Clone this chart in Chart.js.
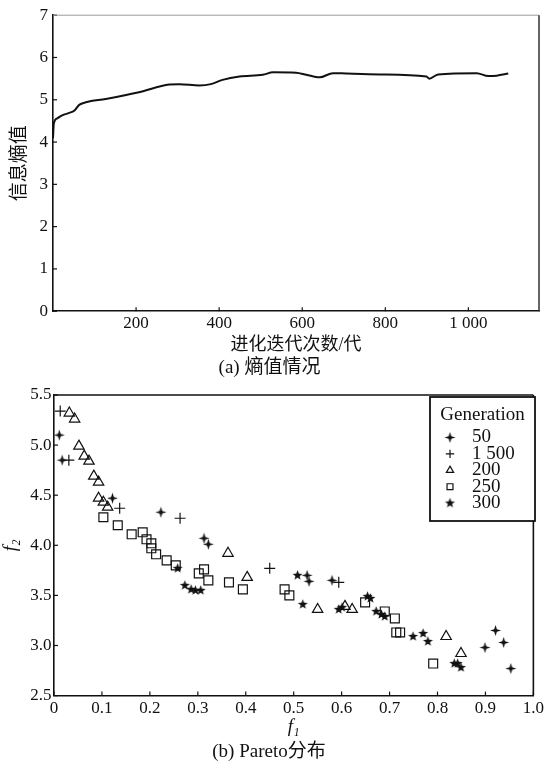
<!DOCTYPE html>
<html>
<head>
<meta charset="utf-8">
<script src="https://cdn.jsdelivr.net/npm/chart.js"></script>
<style>
html, body { margin:0; padding:0; background:#fff; }
#wrap { width:547px; height:769px; }
canvas { display:block; }
</style>
</head>
<body>
<div id="wrap">
  <canvas id="entropyChart" width="547" height="380"></canvas>
  <canvas id="paretoChart" width="547" height="389"></canvas>
</div>
<script>
// (a) entropy curve
const gens    = [0, 2, 10, 22, 39, 51, 63, 79, 127, 207, 280, 304, 352, 380, 408, 449, 505, 530, 585, 610, 642, 674, 706, 787, 899, 906, 927, 1020, 1048, 1068, 1096];
const entropy = [4.09, 4.44, 4.56, 4.63, 4.69, 4.74, 4.88, 4.94, 5.02, 5.18, 5.36, 5.37, 5.34, 5.37, 5.47, 5.55, 5.59, 5.65, 5.64, 5.59, 5.53, 5.63, 5.62, 5.60, 5.55, 5.50, 5.60, 5.63, 5.56, 5.57, 5.62];
const genTicks = [200, 400, 600, 800, 1000];

// (b) pareto fronts, one pair of arrays per generation
const genLabels = ['50', '1 500', '200', '250', '300'];
const f1_50  = [0.011, 0.017, 0.122, 0.223, 0.313, 0.322, 0.528, 0.532, 0.580, 0.899, 0.921, 0.938, 0.953];
const f2_50  = [5.10, 4.85, 4.47, 4.33, 4.07, 4.01, 3.70, 3.64, 3.65, 2.98, 3.15, 3.03, 2.77];
const f1_1500 = [0.013, 0.031, 0.137, 0.263, 0.450, 0.594];
const f2_1500 = [5.34, 4.85, 4.37, 4.27, 3.77, 3.63];
const f1_200 = [0.032, 0.043, 0.052, 0.063, 0.073, 0.083, 0.093, 0.093, 0.103, 0.112, 0.363, 0.403, 0.550, 0.607, 0.622, 0.818, 0.849];
const f2_200 = [5.32, 5.26, 4.99, 4.89, 4.84, 4.69, 4.63, 4.47, 4.43, 4.38, 3.92, 3.68, 3.36, 3.39, 3.36, 3.09, 2.92];
const f1_250 = [0.103, 0.133, 0.162, 0.185, 0.193, 0.203, 0.203, 0.213, 0.235, 0.254, 0.302, 0.313, 0.322, 0.365, 0.394, 0.481, 0.491, 0.649, 0.690, 0.711, 0.714, 0.722, 0.791];
const f2_250 = [4.28, 4.20, 4.11, 4.13, 4.06, 4.02, 3.97, 3.91, 3.85, 3.80, 3.72, 3.76, 3.65, 3.63, 3.56, 3.56, 3.50, 3.43, 3.34, 3.27, 3.13, 3.13, 2.82];
const f1_300 = [0.258, 0.273, 0.286, 0.295, 0.306, 0.508, 0.519, 0.594, 0.601, 0.654, 0.660, 0.672, 0.683, 0.690, 0.749, 0.770, 0.780, 0.835, 0.842, 0.849];
const f2_300 = [3.77, 3.60, 3.56, 3.55, 3.55, 3.70, 3.41, 3.36, 3.38, 3.49, 3.47, 3.34, 3.31, 3.29, 3.09, 3.12, 3.04, 2.82, 2.82, 2.78];

const SERIF = '"Liberation Serif", "Times New Roman", "Noto Sans CJK SC", serif';
const INK = '#111';

function pts(xs, ys){ return xs.map((v,i)=>({x:v, y:ys[i]})); }
function font(size, style){ return {family:SERIF, size:size, style:style||'normal', weight:'normal', lineHeight:1.2}; }

// marker images for the filled star symbols
function starImg(points, outer, inner){
  const s = Math.ceil(outer*2)+2, c = document.createElement('canvas');
  c.width = s; c.height = s;
  const g = c.getContext('2d');
  g.translate(s/2, s/2);
  g.beginPath();
  for(let i=0;i<points*2;i++){
    const r = i%2 ? inner : outer, a = -Math.PI/2 + i*Math.PI/points;
    g.lineTo(Math.cos(a)*r, Math.sin(a)*r);
  }
  g.closePath();
  g.fillStyle = INK; g.fill();
  return c;
}
const star4 = starImg(4, 5.5, 1.9);
const star5 = starImg(5, 5.2, 2.2);

// inward tick marks and the top/right frame lines
const frameTicks = {
  id:'frameTicks',
  afterDraw(chart, args, o){
    const {ctx, chartArea:a, scales:{x, y}} = chart;
    ctx.save();
    ctx.strokeStyle = INK; ctx.lineWidth = 1.2;
    x.ticks.forEach(t=>{
      const px = x.getPixelForValue(t.value);
      ctx.beginPath(); ctx.moveTo(px, a.bottom); ctx.lineTo(px, a.bottom-4); ctx.stroke();
    });
    y.ticks.forEach(t=>{
      const py = y.getPixelForValue(t.value);
      ctx.beginPath(); ctx.moveTo(a.left, py); ctx.lineTo(a.left+4, py); ctx.stroke();
    });
    ctx.strokeStyle = o.topColor; ctx.lineWidth = o.topWidth;
    ctx.beginPath(); ctx.moveTo(a.left, a.top); ctx.lineTo(a.right, a.top); ctx.stroke();
    ctx.strokeStyle = o.rightColor; ctx.lineWidth = o.rightWidth;
    ctx.beginPath(); ctx.moveTo(a.right, a.top); ctx.lineTo(a.right, a.bottom); ctx.stroke();
    ctx.restore();
  }
};

// boxed legend inside the plot
const genLegend = {
  id:'genLegend',
  afterDraw(chart, args, o){
    if(!o.show) return;
    const ctx = chart.ctx;
    ctx.save();
    ctx.fillStyle = '#fff'; ctx.fillRect(o.x, o.y, o.w, o.h);
    ctx.strokeStyle = INK; ctx.lineWidth = 1.8; ctx.strokeRect(o.x, o.y, o.w, o.h);
    ctx.font = '19px ' + SERIF; ctx.textBaseline = 'middle';
    ctx.fillStyle = INK; ctx.textAlign = 'center';
    ctx.fillText(o.title, o.x + o.w/2, o.titleY);
    chart.data.datasets.forEach((ds, i)=>{
      const cy = o.rowY + i*o.rowStep;
      ctx.fillStyle = ds.backgroundColor; ctx.strokeStyle = ds.borderColor; ctx.lineWidth = ds.borderWidth;
      Chart.helpers.drawPoint(ctx, {pointStyle:ds.pointStyle, radius:o.markerRadius, rotation:0, borderWidth:ds.borderWidth}, o.markerX, cy);
      ctx.fillStyle = INK; ctx.textAlign = 'left';
      ctx.fillText(ds.label, o.textX, cy);
    });
    ctx.restore();
  }
};

Chart.defaults.color = INK;
Chart.defaults.font.family = SERIF;

new Chart(document.getElementById('entropyChart'), {
  type:'line',
  data:{ datasets:[{ data:pts(gens, entropy), borderColor:INK, borderWidth:2, pointRadius:0, cubicInterpolationMode:'monotone', fill:false }] },
  options:{
    responsive:false, animation:false, events:[],
    layout:{ padding:{top:10, right:8, left:0, bottom:0} },
    plugins:{
      legend:{display:false}, tooltip:{enabled:false},
      title:{ display:true, position:'bottom', text:'(a) 熵值情况', font:font(19), color:INK, padding:{top:0, bottom:1} },
      frameTicks:{ topColor:'#9a9a9a', topWidth:1, rightColor:'#333', rightWidth:1.5 },
      genLegend:{ show:false }
    },
    scales:{
      x:{
        type:'linear', min:0, max:1170,
        afterBuildTicks:s=>{ s.ticks = genTicks.map(v=>({value:v})); },
        afterFit:s=>{ s.height = 45; },
        ticks:{ font:font(17), color:INK, padding:2, maxRotation:0, autoSkip:false,
                callback:v=> v>=1000 ? String(v).replace(/(\d)(\d{3})$/, '$1 $2') : String(v) },
        grid:{ display:false, drawTicks:false },
        border:{ display:true, color:INK, width:1.6 },
        title:{ display:true, text:'进化迭代次数/代', font:font(18), color:INK, padding:{top:0, bottom:0} }
      },
      y:{
        min:0, max:7,
        afterFit:s=>{ s.width = 53; },
        ticks:{ stepSize:1, font:font(17), color:INK, padding:5 },
        grid:{ display:false, drawTicks:false },
        border:{ display:true, color:INK, width:1.6 },
        title:{ display:true, text:'信息熵值', font:font(19), color:INK, padding:{top:9, bottom:0} }
      }
    }
  },
  plugins:[frameTicks, genLegend]
});

const hollow = 'rgba(0,0,0,0)';
new Chart(document.getElementById('paretoChart'), {
  type:'scatter',
  data:{ datasets:[
    { label:genLabels[0], data:pts(f1_50, f2_50),     pointStyle:star4,     pointRadius:5,   backgroundColor:INK,    borderColor:INK, borderWidth:1 },
    { label:genLabels[1], data:pts(f1_1500, f2_1500), pointStyle:'cross',   pointRadius:5.5, backgroundColor:hollow, borderColor:INK, borderWidth:1.2 },
    { label:genLabels[2], data:pts(f1_200, f2_200),   pointStyle:'triangle',pointRadius:6,   backgroundColor:hollow, borderColor:INK, borderWidth:1.2 },
    { label:genLabels[3], data:pts(f1_250, f2_250),   pointStyle:'rect',    pointRadius:6.3, backgroundColor:hollow, borderColor:INK, borderWidth:1.2 },
    { label:genLabels[4], data:pts(f1_300, f2_300),   pointStyle:star5,     pointRadius:5,   backgroundColor:INK,    borderColor:INK, borderWidth:1 }
  ]},
  options:{
    responsive:false, animation:false, events:[],
    layout:{ padding:{top:15, right:9, left:0, bottom:0} },
    plugins:{
      legend:{display:false}, tooltip:{enabled:false},
      title:{ display:true, position:'bottom', text:'(b) Pareto分布', font:font(19), color:INK, padding:{top:0, bottom:5.6} },
      frameTicks:{ topColor:INK, topWidth:1.6, rightColor:INK, rightWidth:1.6 },
      genLegend:{ show:true, title:'Generation', x:430, y:17, w:105, h:124, titleY:35,
                  markerX:450, textX:472, rowY:57.5, rowStep:16.4, markerRadius:4.2 }
    },
    scales:{
      x:{
        type:'linear', min:0, max:1,
        afterFit:s=>{ s.height = 45; },
        ticks:{ stepSize:0.1, font:font(17), color:INK, padding:3, maxRotation:0, autoSkip:false,
                callback:v=> v===0 ? '0' : v.toFixed(1) },
        grid:{ display:false, drawTicks:false },
        border:{ display:true, color:INK, width:1.6 },
        title:{ display:true, text:'f₁', font:font(19, 'italic'), color:INK, padding:{top:0, bottom:2} }
      },
      y:{
        min:2.5, max:5.5,
        afterFit:s=>{ s.width = 54; },
        ticks:{ stepSize:0.5, font:font(17), color:INK, padding:2.5, callback:v=> v.toFixed(1) },
        grid:{ display:false, drawTicks:false },
        border:{ display:true, color:INK, width:1.6 },
        title:{ display:true, text:'f₂', font:font(19, 'italic'), color:INK, padding:{top:0, bottom:0} }
      }
    }
  },
  plugins:[frameTicks, genLegend]
});
</script>
</body>
</html>
